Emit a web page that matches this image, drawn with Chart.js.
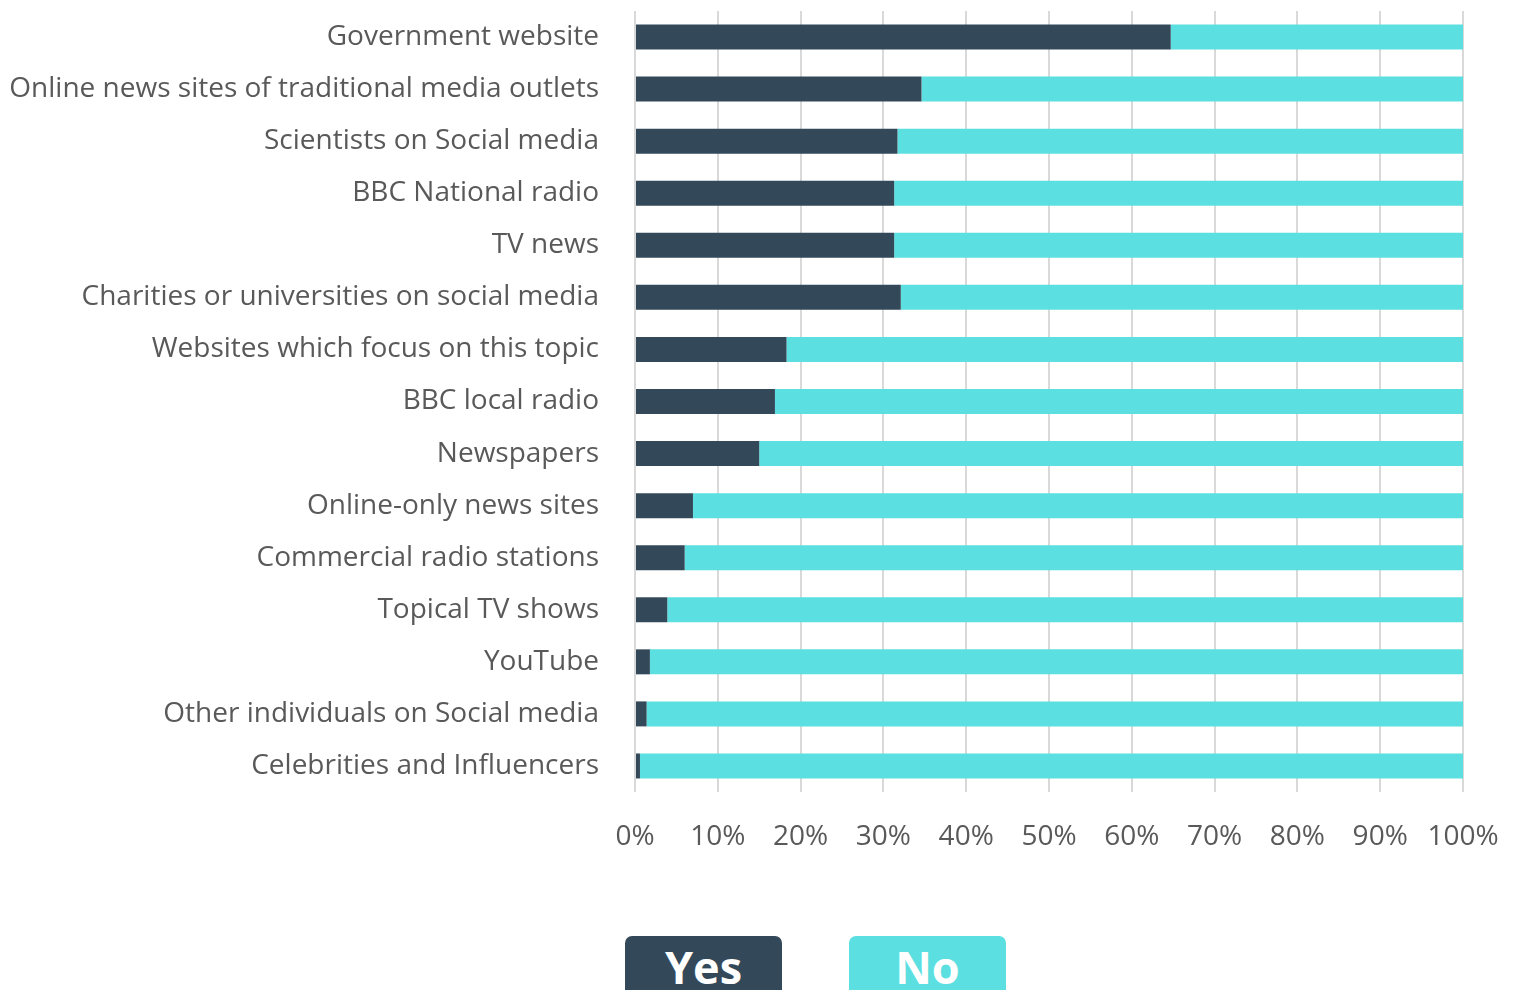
<!DOCTYPE html>
<html>
<head>
<meta charset="utf-8">
<script src="https://cdn.jsdelivr.net/npm/chart.js@4/dist/chart.umd.min.js"></script>
<style>
  html, body { margin: 0; padding: 0; background: #fff; overflow: hidden; }
  #wrap { position: relative; width: 1517px; height: 990px; }
  #box { position: absolute; left: 0; top: 0; width: 1517px; height: 870px; }
  .key {
    position: absolute; top: 936px; width: 157px; height: 80px;
    border-radius: 7px; color: #fff; text-align: center;
    font-family: "Open Sans", sans-serif; font-weight: 700; font-size: 45px;
    line-height: 45px; padding-top: 8px; box-sizing: border-box;
  }
</style>
</head>
<body>
<div id="wrap">
  <div id="box"><canvas id="c"></canvas></div>
  <div class="key" id="kYes" style="left:625px;"></div>
  <div class="key" id="kNo" style="left:849px;"></div>
</div>
<script>
const categories = [
  "Government website",
  "Online news sites of traditional media outlets",
  "Scientists on Social media",
  "BBC National radio",
  "TV news",
  "Charities or universities on social media",
  "Websites which focus on this topic",
  "BBC local radio",
  "Newspapers",
  "Online-only news sites",
  "Commercial radio stations",
  "Topical TV shows",
  "YouTube",
  "Other individuals on Social media",
  "Celebrities and Influencers"
];
const yesValues = [64.7, 34.6, 31.7, 31.3, 31.3, 32.1, 18.3, 16.9, 15.0, 7.0, 6.0, 3.9, 1.8, 1.4, 0.6];
const noValues  = [35.3, 65.4, 68.3, 68.7, 68.7, 67.9, 81.7, 83.1, 85.0, 93.0, 94.0, 96.1, 98.2, 98.6, 99.4];
const seriesNames = ["Yes", "No"];
const seriesColors = ["#33495a", "#5cdfe0"];
const xTicks = [0, 10, 20, 30, 40, 50, 60, 70, 80, 90, 100];

document.getElementById("kYes").textContent = seriesNames[0];
document.getElementById("kYes").style.background = seriesColors[0];
document.getElementById("kNo").textContent = seriesNames[1];
document.getElementById("kNo").style.background = seriesColors[1];

const labelFont = { family: "'Open Sans', sans-serif", size: 28 };

new Chart(document.getElementById("c"), {
  type: "bar",
  data: {
    labels: categories,
    datasets: [
      { label: seriesNames[0], data: yesValues, backgroundColor: seriesColors[0], borderWidth: 0 },
      { label: seriesNames[1], data: noValues, backgroundColor: seriesColors[1], borderWidth: 0 }
    ]
  },
  options: {
    indexAxis: "y",
    responsive: true,
    maintainAspectRatio: false,
    animation: false,
    layout: { padding: { top: 11, right: 54, left: 0, bottom: 0 } },
    plugins: { legend: { display: false }, tooltip: { enabled: false } },
    datasets: { bar: { categoryPercentage: 1, barPercentage: 0.48 } },
    scales: {
      x: {
        stacked: true, min: 0, max: 100,
        afterBuildTicks: (s) => { s.ticks = xTicks.map(v => ({ value: v })); },
        afterFit: (s) => { s.height = 78; },
        border: { display: false },
        grid: { color: "#d9d9d9", lineWidth: 2, drawTicks: true, tickLength: 28, tickColor: "rgba(0,0,0,0)" },
        ticks: { color: "#595959", font: labelFont, padding: 0, callback: (v) => v + "%" }
      },
      y: {
        stacked: true,
        afterFit: (s) => { s.width = 635; s.paddingTop = 0; s.paddingBottom = 0; },
        border: { display: false },
        grid: { display: true, drawOnChartArea: false, drawTicks: true, tickLength: 36, color: "rgba(0,0,0,0)" },
        ticks: { color: "#595959", font: labelFont, padding: 0, autoSkip: false }
      }
    }
  }
});
</script>
</body>
</html>
